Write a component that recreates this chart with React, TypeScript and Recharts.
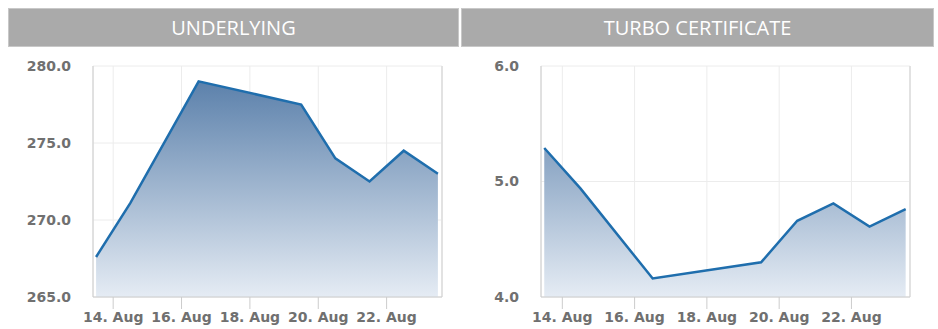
import React from "react";
import {
  AreaChart,
  Area,
  XAxis,
  YAxis,
  CartesianGrid,
  ReferenceLine,
} from "recharts";

// ---- data ----
const dates = [
  "2024-08-13T12:00:00Z",
  "2024-08-14T12:00:00Z",
  "2024-08-16T12:00:00Z",
  "2024-08-19T12:00:00Z",
  "2024-08-20T12:00:00Z",
  "2024-08-21T12:00:00Z",
  "2024-08-22T12:00:00Z",
  "2024-08-23T12:00:00Z",
];
const underlyingValues = [267.6, 271.1, 279.0, 277.5, 274.0, 272.5, 274.5, 273.0];
const turboValues = [5.29, 4.94, 4.16, 4.3, 4.66, 4.81, 4.61, 4.76];
const xTickDates = ["2024-08-14", "2024-08-16", "2024-08-18", "2024-08-20", "2024-08-22"];
const underlyingTicks = [265, 270, 275, 280];
const turboTicks = [4, 5, 6];
const titles = ["UNDERLYING", "TURBO CERTIFICATE"];

const DAY = 86400000;
const ts = dates.map((d) => Date.parse(d));
const xTicks = xTickDates.map((d) => Date.parse(d + "T00:00:00Z"));
const xDomain = [ts[0] - 0.09 * DAY, ts[ts.length - 1] + 0.12 * DAY];

const underlyingData = ts.map((t, i) => ({ t, v: underlyingValues[i] }));
const turboData = ts.map((t, i) => ({ t, v: turboValues[i] }));

const fmtDate = (t: number) => `${new Date(t).getUTCDate()}. Aug`;
const tickStyle = {
  fontFamily: "'DejaVu Sans', sans-serif",
  fontSize: 14,
  fontWeight: "bold" as const,
  fill: "#707070",
};

const PLOT_TOP = 66;
const PLOT_BOTTOM = 297;

function Panel(props: {
  left: number;
  width: number;
  yAxisWidth: number;
  rightMargin: number;
  data: { t: number; v: number }[];
  yDomain: number[];
  yTicks: number[];
  gid: string;
}) {
  const { left, width, yAxisWidth, rightMargin, data, yDomain, yTicks, gid } = props;
  return (
    <div style={{ position: "absolute", left, top: 0 }}>
      <AreaChart
        width={width}
        height={329}
        data={data}
        margin={{ top: PLOT_TOP, right: rightMargin, bottom: 0, left: 0 }}
      >
        <defs>
          <linearGradient
            id={gid}
            gradientUnits="userSpaceOnUse"
            x1="0"
            y1={PLOT_TOP}
            x2="0"
            y2={PLOT_BOTTOM}
          >
            <stop offset="0%" stopColor="#5279a6" stopOpacity={1} />
            <stop offset="100%" stopColor="#e5ecf4" stopOpacity={1} />
          </linearGradient>
        </defs>
        <CartesianGrid stroke="#ececec" strokeWidth={1} />
        <XAxis
          dataKey="t"
          type="number"
          scale="time"
          domain={xDomain}
          ticks={xTicks}
          tickFormatter={fmtDate}
          height={32}
          tickSize={12}
          tickMargin={3}
          interval={0}
          axisLine={{ stroke: "#cccccc" }}
          tickLine={{ stroke: "#cccccc" }}
          tick={tickStyle}
          allowDataOverflow
        />
        <YAxis
          type="number"
          domain={yDomain}
          ticks={yTicks}
          width={yAxisWidth}
          tickFormatter={(v: number) => v.toFixed(1)}
          tickLine={false}
          tickSize={10}
          tickMargin={12}
          axisLine={{ stroke: "#cccccc" }}
          tick={tickStyle}
          allowDataOverflow
        />
        <ReferenceLine x={xDomain[1]} stroke="#e2e2e2" strokeWidth={2} />
        <Area
          type="linear"
          dataKey="v"
          stroke="#1f6ead"
          strokeWidth={2.5}
          fill={`url(#${gid})`}
          fillOpacity={1}
          baseValue={yDomain[0]}
          isAnimationActive={false}
          dot={false}
          activeDot={false}
        />
      </AreaChart>
    </div>
  );
}

function TitleBar(props: { left: number; width: number; text: string }) {
  return (
    <div
      style={{
        position: "absolute",
        left: props.left,
        top: 8,
        width: props.width,
        height: 39,
        boxSizing: "border-box",
        background: "#aaaaaa",
        border: "1px solid #c8c8c8",
        color: "#ffffff",
        fontFamily: "'Open Sans', sans-serif",
        fontSize: 20,
        lineHeight: "37px",
        textAlign: "center",
      }}
    >
      {props.text}
    </div>
  );
}

export default function App() {
  return (
    <div style={{ position: "absolute", left: 0, top: 0, width: 938, height: 329, background: "#ffffff" }}>
      <Panel
        left={0}
        width={458}
        yAxisWidth={93}
        rightMargin={16}
        data={underlyingData}
        yDomain={[265, 280]}
        yTicks={underlyingTicks}
        gid="gradU"
      />
      <Panel
        left={460}
        width={478}
        yAxisWidth={81}
        rightMargin={28}
        data={turboData}
        yDomain={[4, 6]}
        yTicks={turboTicks}
        gid="gradT"
      />
      <TitleBar left={8} width={451} text={titles[0]} />
      <TitleBar left={461} width={473} text={titles[1]} />
    </div>
  );
}
